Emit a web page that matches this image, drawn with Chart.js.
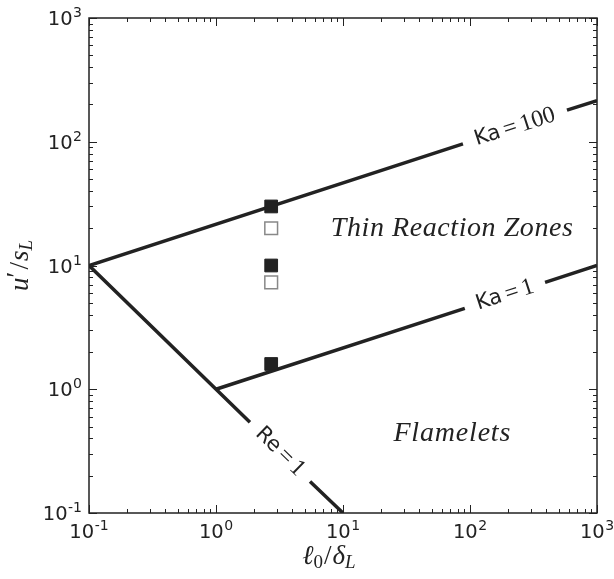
<!DOCTYPE html>
<html><head><meta charset="utf-8">
<script src="https://cdn.jsdelivr.net/npm/chart.js@4"></script>
<style>html,body{margin:0;padding:0;background:#fff}#wrap{width:614px;height:579px;position:relative}</style>
</head><body><div id="wrap"><canvas id="c"></canvas></div>
<script>
// ---- data ----
const tickValues = [0.1, 1, 10, 100, 1000];
const tickBase = '10';
const tickExponents = ['-1', '0', '1', '2', '3'];
// Ka = 100 line (gap where the inline label sits)
const ka100X = [0.1, 88, null, 580, 1000];
const ka100Y = [10, 96, null, 180, 215];
// Ka = 1 line
const ka1X = [1, 91, null, 390, 1000];
const ka1Y = [1, 4.5, null, 7.3, 10];
// Re = 1 line
const re1X = [0.1, 1.85, null, 5.5, 10];
const re1Y = [10, 0.54, null, 0.18, 0.1];
// measured cases
const filledX = [2.72, 2.72, 2.72];
const filledY = [30, 10, 1.6];
const openX = [2.72, 2.72];
const openY = [20, 7.3];
// inline line labels: text and anchor position (data units)
const lineLabelText = ['100', '1', '1'];
const lineLabelName = ['Ka', 'Ka', 'Re'];
const lineLabelX = [226, 189, 3.19];
const lineLabelY = [131, 5.74, 0.313];
// region labels
const regionText = ['Thin Reaction Zones', 'Flamelets'];
const regionX = [72, 72];
const regionY = [19.7, 0.44];

const INK = '#222';
const pts = (xs, ys) => xs.map((x, i) => ({x: x, y: ys[i]}));
const lineRefs = [[ka100X, ka100Y], [ka1X, ka1Y], [re1X, re1Y]];
const SANS = '"DejaVu Sans", sans-serif';
const SERIF = '"Liberation Serif", serif';

function measureParts(ctx, parts) {
  let w = 0;
  parts.forEach(p => { ctx.font = p.f; p.w = ctx.measureText(p.t).width; w += p.w + (p.gap || 0); });
  return w;
}
function drawParts(ctx, parts, cx, cy, angle, align, baseline) {
  ctx.save();
  ctx.translate(cx, cy);
  ctx.rotate(angle);
  const w = measureParts(ctx, parts);
  let xx = align === 'right' ? -w : -w / 2;
  ctx.textBaseline = baseline || 'middle';
  ctx.textAlign = 'left';
  ctx.fillStyle = INK;
  parts.forEach(p => { ctx.font = p.f; ctx.fillText(p.t, xx, (p.dy || 0)); xx += p.w + (p.gap || 0); });
  ctx.restore();
}
function tickParts(i) {
  return [
    {t: tickBase, f: '19.5px ' + SANS, gap: 0.5},
    {t: tickExponents[i], f: '14px ' + SANS, dy: -8}
  ];
}

const decorPlugin = {
  id: 'decor',
  afterDatasetsDraw(chart) {
    const {ctx, chartArea: a, scales: {x, y}} = chart;
    ctx.save();
    // frame
    ctx.strokeStyle = INK;
    ctx.lineWidth = 1.5;
    ctx.strokeRect(a.left, a.top, a.right - a.left, a.bottom - a.top);
    // ticks, inward on all four sides
    ctx.lineWidth = 1;
    for (let e = -1; e <= 3; e++) {
      for (let m = 1; m <= 9; m++) {
        if (e === 3 && m > 1) break;
        const v = m * Math.pow(10, e);
        const len = m === 1 ? 8 : 4;
        const px = Math.round(x.getPixelForValue(v)) + 0.5;
        const py = Math.round(y.getPixelForValue(v)) + 0.5;
        ctx.beginPath();
        ctx.moveTo(px, a.bottom); ctx.lineTo(px, a.bottom - len);
        ctx.moveTo(px, a.top); ctx.lineTo(px, a.top + len);
        ctx.moveTo(a.left, py); ctx.lineTo(a.left + len, py);
        ctx.moveTo(a.right, py); ctx.lineTo(a.right - len, py);
        ctx.stroke();
      }
    }
    // tick labels
    tickValues.forEach((v, i) => {
      drawParts(ctx, tickParts(i), x.getPixelForValue(v), a.bottom + 25, 0, 'center', 'alphabetic');
      drawParts(ctx, tickParts(i), a.left - 7, y.getPixelForValue(v) + 7, 0, 'right', 'alphabetic');
    });
    // inline labels on lines
    lineLabelName.forEach((nm, i) => {
      const [lx, ly] = lineRefs[i];
      const x0 = x.getPixelForValue(lx[0]), y0 = y.getPixelForValue(ly[0]);
      const x1 = x.getPixelForValue(lx[lx.length - 1]), y1 = y.getPixelForValue(ly[ly.length - 1]);
      const ang = Math.atan2(y1 - y0, x1 - x0);
      const cx = x.getPixelForValue(lineLabelX[i]);
      const cy = y.getPixelForValue(lineLabelY[i]);
      drawParts(ctx, [
        {t: nm, f: '21px ' + SANS, gap: 4},
        {t: '=', f: '24px ' + SERIF, gap: 4},
        {t: lineLabelText[i], f: '24px ' + SERIF}
      ], cx, cy, ang);
    });
    // region labels
    const targetW = [242, 117];
    regionText.forEach((t, i) => {
      ctx.save();
      ctx.font = 'italic 28px ' + SERIF;
      const mw = ctx.measureText(t).width;
      const ls = (targetW[i] - mw) / (t.length - 1);
      ctx.letterSpacing = ls.toFixed(2) + 'px';
      ctx.fillStyle = INK;
      ctx.textAlign = 'center';
      ctx.textBaseline = 'middle';
      ctx.fillText(t, x.getPixelForValue(regionX[i]) + ls / 2, y.getPixelForValue(regionY[i]));
      ctx.restore();
    });
    // axis titles
    const it = 'italic 27px ' + SERIF;
    const sub = 'italic 19px ' + SERIF;
    drawParts(ctx, [
      {t: 'ℓ', f: it},
      {t: '0', f: '19px ' + SERIF, dy: 6, gap: 1},
      {t: '/', f: '27px ' + SERIF, gap: 1},
      {t: 'δ', f: it},
      {t: 'L', f: sub, dy: 6}
    ], (a.left + a.right) / 2 - 14, 557, 0);
    drawParts(ctx, [
      {t: 'u', f: it},
      {t: '′', f: '27px ' + SERIF, dy: -3, gap: 2},
      {t: '/', f: '27px ' + SERIF, gap: 1},
      {t: 's', f: it},
      {t: 'L', f: sub, dy: 6}
    ], 21, (a.top + a.bottom) / 2, -Math.PI / 2);
    ctx.restore();
  }
};

const majorTicks = scale => { scale.ticks = tickValues.map(v => ({value: v, major: true})); };

new Chart(document.getElementById('c'), {
  type: 'scatter',
  data: {
    datasets: [
      {label: 'filled', data: pts(filledX, filledY), pointStyle: 'rect', pointRadius: 9, pointHoverRadius: 9,
       backgroundColor: INK, borderColor: INK, borderWidth: 1, showLine: false},
      {label: 'open', data: pts(openX, openY), pointStyle: 'rect', pointRadius: 9, pointHoverRadius: 9,
       backgroundColor: '#fff', borderColor: '#888', borderWidth: 1.5, showLine: false},
      {label: 'Ka=100', data: pts(ka100X, ka100Y), showLine: true, spanGaps: false, borderColor: INK, borderWidth: 3.5, pointRadius: 0},
      {label: 'Ka=1', data: pts(ka1X, ka1Y), showLine: true, spanGaps: false, borderColor: INK, borderWidth: 3.5, pointRadius: 0},
      {label: 'Re=1', data: pts(re1X, re1Y), showLine: true, spanGaps: false, borderColor: INK, borderWidth: 3.5, pointRadius: 0}
    ]
  },
  options: {
    responsive: true,
    maintainAspectRatio: false,
    animation: false,
    layout: {padding: {top: 18, right: 17, left: 0, bottom: 0}},
    plugins: {legend: {display: false}, tooltip: {enabled: false}},
    scales: {
      x: {
        type: 'logarithmic', min: 0.1, max: 1000,
        afterBuildTicks: majorTicks,
        afterFit: s => { s.height = 66; },
        grid: {display: false},
        border: {display: false},
        ticks: {display: false}
      },
      y: {
        type: 'logarithmic', min: 0.1, max: 1000,
        afterBuildTicks: majorTicks,
        afterFit: s => { s.width = 89; },
        grid: {display: false},
        border: {display: false},
        ticks: {display: false}
      }
    }
  },
  plugins: [decorPlugin]
});
</script>
</body></html>
